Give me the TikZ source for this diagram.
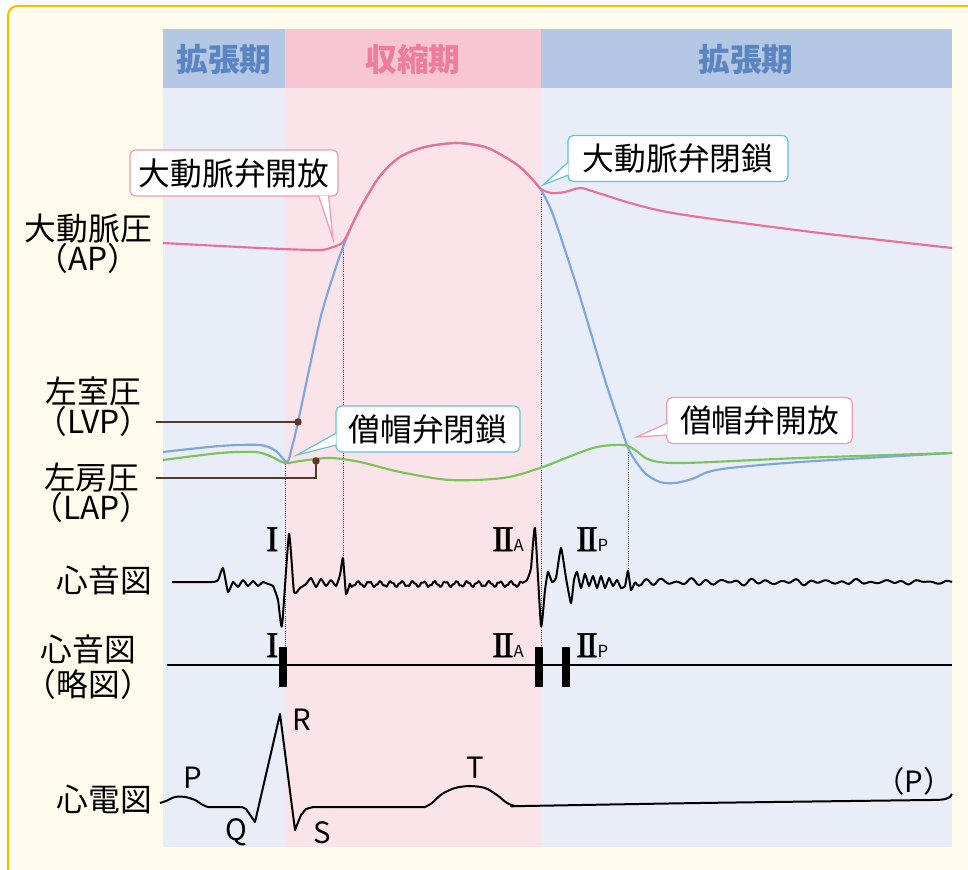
\documentclass[tikz,border=0pt]{standalone}
\usepackage{fontspec}
\setmainfont{Noto Sans CJK JP}
\newfontfamily\romfont[FakeBold=1.6]{Liberation Serif}
\usetikzlibrary{calc}
\definecolor{frameFill}{HTML}{FFFCEE}
\definecolor{frameLine}{HTML}{F7BE00}
\definecolor{hdrBlue}{HTML}{B4C8E6}
\definecolor{hdrPink}{HTML}{F8C5D2}
\definecolor{bodyBlue}{HTML}{E9EDF8}
\definecolor{bodyPink}{HTML}{FBE3EA}
\definecolor{hdrBlueText}{HTML}{5B85C0}
\definecolor{hdrPinkText}{HTML}{EE7C9E}
\definecolor{apPink}{HTML}{EC6F95}
\definecolor{lvpBlue}{HTML}{7EA6DD}
\definecolor{lapGreen}{HTML}{7CC35A}
\definecolor{tagPink}{HTML}{F29AB0}
\definecolor{tagCyan}{HTML}{62C3D3}
\definecolor{leadBrown}{HTML}{5B3526}
\newcommand{\jpfont}{\fontsize{23.8}{22.5}\selectfont}
\newcommand{\romI}{{\romfont\fontsize{27}{27}\selectfont I}}
\newcommand{\romII}[1]{{\romfont\fontsize{27}{27}\selectfont I\kern-0.07em I}{\fontsize{12.5}{12.5}\selectfont #1}}
\tikzstyle{frame} = [fill=frameFill, draw=frameLine, line width=1.5pt, rounded corners=7pt]
\tikzstyle{hdr} = [font=\jpfont\bfseries]
\tikzstyle{lbl} = [anchor=east, align=center, font=\jpfont, inner sep=3pt]
\tikzstyle{tag} = [fill=white, line width=0.9pt, rounded corners=4pt, font=\jpfont, minimum height=34.5pt, inner sep=2pt]
\tikzstyle{guide} = [densely dotted, line width=0.6pt, black!75]
\tikzstyle{ap} = [draw=apPink, line width=1.6pt]
\tikzstyle{lvp} = [draw=lvpBlue, line width=1.6pt]
\tikzstyle{lap} = [draw=lapGreen, line width=1.6pt]
\tikzstyle{leader} = [draw=leadBrown, line width=1.4pt]
\tikzstyle{trace} = [draw=black, line width=1.5pt, line join=round]
\tikzstyle{sndbar} = [fill=black, minimum width=6pt, minimum height=30pt, inner sep=0pt]
\tikzstyle{ecgtxt} = [font=\fontsize{22}{22}\selectfont, inner sep=0pt]
\tikzstyle{romtxt} = [anchor=base west, inner sep=0pt]

\begin{document}
\begin{tikzpicture}[x=0.75pt,y=-0.75pt]
\useasboundingbox (0,0) rectangle (968,870);
\fill[white] (0,0) rectangle (968,870);
\begin{scope}
\clip (0,0) rectangle (968,870);
\draw[frame] (8,6) rectangle (1010,900);
\end{scope}

\fill[hdrBlue] (163,29) rectangle (285,88);
\fill[hdrPink] (285,29) rectangle (541,88);
\fill[hdrBlue] (541,29) rectangle (952,88);
\fill[bodyBlue] (163,88) rectangle (285,847);
\fill[bodyPink] (285,88) rectangle (541,847);
\fill[bodyBlue] (541,88) rectangle (952,847);
\node[hdr, text=hdrBlueText] (dia1) at (224,59) {拡張期};
\node[hdr, text=hdrPinkText] (sys) at (413,59) {収縮期};
\node[hdr, text=hdrBlueText] (dia2) at (746,59) {拡張期};

\draw[guide] (285,462) -- (285,647);
\draw[guide] (343,248) -- (343,556);
\draw[guide] (541,188) -- (541,647);
\draw[guide] (628,446) -- (628,580);

\draw[lvp] plot[smooth, tension=0.5] coordinates {(163,452) (220,446) (260,445) (276,451) (287,462) (292,447) (298,422) (320,320) (335,270) (343,247) (352,225) (362,205) (380,176) (400,157) (425,147) (457,143) (485,147) (505,157) (520,167) (533,180) (541,190) (552,212) (565,250) (577,287) (587,320) (605,380) (620,425) (630,452) (645,473) (660,482) (675,483) (692,479) (708,472) (730,468) (800,462) (952,453)};
\draw[lap] plot[smooth, tension=0.5] coordinates {(163,460) (220,453) (255,452) (270,456) (285,463) (300,461) (330,458) (360,462) (400,472) (450,480) (503,478) (540,468) (593,448) (623,445) (635,450) (650,460) (683,463) (800,458) (952,453)};
\draw[ap] plot[smooth, tension=0.5] coordinates {(163,243) (260,248) (318,250) (333,247) (343,242) (352,225) (362,205) (380,176) (400,157) (425,147) (457,143) (485,147) (505,157) (520,167) (533,180) (541,189) (552,193) (565,192) (580,188) (595,192) (630,203) (667,212) (720,220) (820,233) (952,248)};

\node[tag, draw=tagPink, minimum width=156pt] (aoOpen) at (234,173) {大動脈弁開放};
\coordinate (aoOpenTip) at (333,239);
\filldraw[fill=white, draw=tagPink, line width=0.9pt] ($(aoOpen.south east)+(-20,-1)$) -- (aoOpenTip) -- ($(aoOpen.south east)+(-10,-1)$);
\node[tag, draw=tagCyan, minimum width=165pt] (aoClose) at (678,158.5) {大動脈弁閉鎖};
\coordinate (aoCloseTip) at (543,185);
\filldraw[fill=white, draw=tagCyan, line width=0.9pt] ($(aoClose.west)+(1,3.5)$) -- (aoCloseTip) -- ($(aoClose.west)+(1,16.5)$);
\node[tag, draw=tagCyan, minimum width=138pt] (mvClose) at (428,429) {僧帽弁閉鎖};
\coordinate (mvCloseTip) at (297,455);
\filldraw[fill=white, draw=tagCyan, line width=0.9pt] ($(mvClose.west)+(1,4)$) -- (mvCloseTip) -- ($(mvClose.west)+(1,16)$);
\node[tag, draw=tagPink, minimum width=139pt] (mvOpen) at (759.5,420.5) {僧帽弁開放};
\coordinate (mvOpenTip) at (637,437);
\filldraw[fill=white, draw=tagPink, line width=0.9pt] ($(mvOpen.west)+(1,2.5)$) -- (mvOpenTip) -- ($(mvOpen.west)+(1,14.5)$);

\node[lbl] (apLbl) at (156,244) {大動脈圧\\（AP）};
\node[lbl] (lvpLbl) at (156,407) {左室圧\\（LVP）};
\node[lbl] (lapLbl) at (156,493) {左房圧\\（LAP）};
\node[lbl] (pcgLbl) at (156,580) {心音図};
\node[lbl, font=\fontsize{23.8}{26}\selectfont] (pcgSLbl) at (156,667) {心音図\\（略図）};
\node[lbl] (ecgLbl) at (156,799) {心電図};

\coordinate (lvpDot) at (298,422);
\coordinate (lapDot) at (316,461);
\draw[leader] (lvpLbl.east |- lvpDot) -- (lvpDot);
\draw[leader] (lapLbl.east |- 0,478) -- (316,478) -- (lapDot);
\fill[leadBrown] (lvpDot) circle[radius=2.8pt];
\fill[leadBrown] (lapDot) circle[radius=2.8pt];

\draw[trace] plot[tension=0.3, smooth] coordinates {(172,582) (212,582) (218,580) (223,568) (228,592) (233,582) (238,587) (243,580) (248,586) (253,581) (258,586) (263,582) (268,584) (273,586) (278,600) (282,626) (289,534) (294,592) (300,588) (306,584) (311,578) (316,587) (321,579) (326,586) (331,580) (336,586) (340,575) (343,558) (346,594) (350,583)};
\draw[trace] plot[domain=350:522, samples=100, smooth] (\x, {584+2.5*sin(33*(\x-350))+1*sin(80*(\x-350))});
\draw[trace] plot[tension=0.3, smooth] coordinates {(522,583) (527,580) (531,568) (535,528) (541,626) (545,590) (548,572) (552,582) (556,578) (561,548) (566,578) (571,603) (574,580) (577,572) (581,588) (585,574) (589,586) (593,576) (597,588) (601,576) (605,588) (609,578) (613,586) (617,580) (621,588) (625,586) (628,571) (631,590) (635,582)};
\draw[trace] plot[domain=635:952, samples=170, smooth] (\x, {582+(2.6+1.2*sin(7*(\x-635)))*sin(24*(\x-635))*(1-(\x-635)/500)+1*sin(11*(\x-635))});

\node[romtxt] (s1up) at (266,551) {\romI};
\node[romtxt] (s2Aup) at (492,551) {\romII{A}};
\node[romtxt] (s2Pup) at (576,551) {\romII{P}};

\draw[trace] (167,665) -- (952,665);
\node[sndbar] (s1) at (283,667) {};
\node[sndbar] (s2A) at (539,667) {};
\node[sndbar] (s2P) at (566,667) {};
\node[romtxt] (s1lo) at (266,657) {\romI};
\node[romtxt] (s2Alo) at (492,657) {\romII{A}};
\node[romtxt] (s2Plo) at (576,657) {\romII{P}};

\draw[trace] plot[smooth, tension=0.5] coordinates {(160,803) (166,801) (175,797) (185,797) (195,800) (203,805) (208,807)} -- (242,807) -- (246,809) -- (255,822) -- (280,714) -- (295,830) -- (301,815) -- (306,809) -- (313,807) -- (425,807);
\draw[trace] plot[smooth, tension=0.5] coordinates {(425,807) (432,803) (442,794) (455,788) (470,786) (485,788) (497,795) (507,803) (515,806) (525,806) (700,803) (930,800)} .. controls (945,800) and (950,799) .. (952,794);
\node[ecgtxt] (pW) at (193,778) {P};
\node[ecgtxt] (qW) at (236,832) {Q};
\node[ecgtxt] (rW) at (302,720) {R};
\node[ecgtxt] (sW) at (322,833) {S};
\node[ecgtxt] (tW) at (475,768) {T};
\node[ecgtxt] (pNext) at (914,781) {（P）};
\end{tikzpicture}
\end{document}
